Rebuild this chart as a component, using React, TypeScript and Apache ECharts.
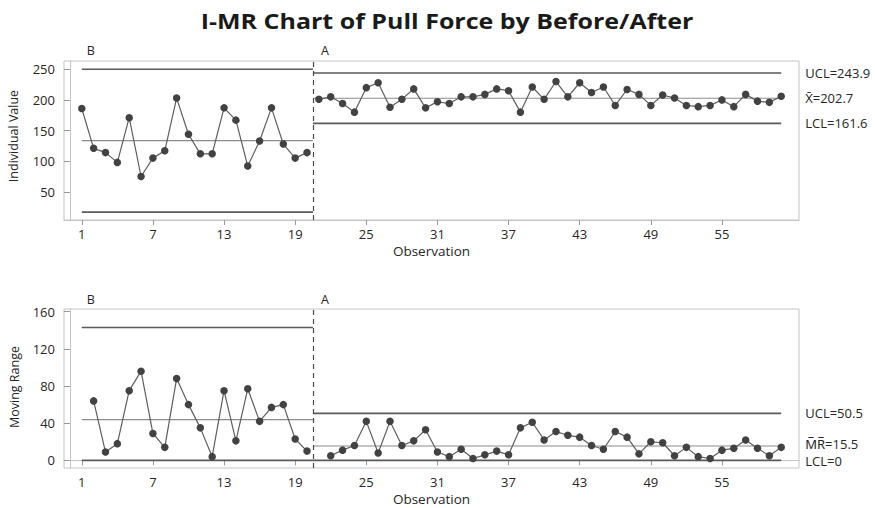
import React, { useEffect, useRef } from "react";
import * as echarts from "echarts";

// Observations 1..60; stage B = 1..20, stage A = 21..60
const xTicks = [1, 7, 13, 19, 25, 31, 37, 43, 49, 55];
const iTicks = [50, 100, 150, 200, 250];
const mrTicks = [0, 40, 80, 120, 160];

const indB = [186, 121, 114, 98, 171, 75, 105, 117, 203, 144, 112, 112, 187, 167, 92, 133, 187, 128, 105, 114];
const indA = [201, 205, 194, 180, 220, 228, 188, 201, 218, 187, 197, 194, 205, 205, 209, 218, 215, 180, 221, 201,
  230, 205, 228, 212, 221, 191, 217, 209, 191, 208, 203, 191, 189, 191, 200, 189, 209, 198, 196, 206];

// moving ranges: B from obs 2, A from obs 22
const mrB = [64, 9, 18, 75, 96, 29, 14, 88, 60, 35, 4, 75, 21, 77, 42, 57, 60, 23, 10];
const mrA = [5, 11, 16, 42, 8, 42, 16, 21, 33, 9, 4, 12, 2, 6, 10, 6, 35, 41, 22, 31, 27, 25, 16, 12, 31, 25, 7,
  20, 19, 5, 14, 4, 2, 11, 13, 22, 13, 5, 14];

// control limits [UCL, center, LCL]
const iLimitsB = [250, 133.5, 17];
const iLimitsA = [243.9, 202.7, 161.6];
const mrLimitsB = [143, 43.8, 0];
const mrLimitsA = [50.5, 15.5, 0];
const iLabelsA = ["UCL=243.9", "X\u0304=202.7", "LCL=161.6"];
const mrLabelsA = ["UCL=50.5", "M\u0305R\u0305=15.5", "LCL=0"];

const titleText = "I-MR Chart of Pull Force by Before/After";

const stageStartB = 1;
const stageSplit = 20.5;
const stageEndA = 60;

const FONT = "'Open Sans', 'Noto Sans', sans-serif";
const TXT = "#262626";

export default function App() {
  const ref = useRef<HTMLDivElement>(null);
  useEffect(() => {
    if (!ref.current) return;
    const chart = echarts.init(ref.current, null, { renderer: "svg" });

    const xAxisBase = (gridIndex: number) => ({
      type: "value",
      gridIndex,
      min: -0.5,
      max: 61.5,
      name: "Observation",
      nameLocation: "middle",
      nameGap: 24,
      nameTextStyle: { fontFamily: FONT, fontSize: 13.5, color: TXT },
      axisLine: { show: true, lineStyle: { color: "#c4c4c4" } },
      axisTick: { show: true, customValues: xTicks, length: 5, lineStyle: { color: "#999" } },
      axisLabel: { customValues: xTicks, fontFamily: FONT, fontSize: 13, color: TXT, margin: 7 },
      splitLine: { show: false },
    });
    const yAxisBase = (gridIndex: number, min: number, max: number, ticks: number[]) => ({
      type: "value",
      gridIndex,
      min,
      max,
      axisLine: { show: true, lineStyle: { color: "#c4c4c4" } },
      axisTick: { show: true, customValues: ticks, length: 6, lineStyle: { color: "#999" } },
      axisLabel: { customValues: ticks, fontFamily: FONT, fontSize: 13, color: TXT, margin: 9 },
      splitLine: { show: false },
    });

    const dataLine = (name: string, xi: number, data: number[][], withSplit: boolean) => ({
      type: "line",
      name,
      xAxisIndex: xi,
      yAxisIndex: xi,
      data,
      symbol: "circle",
      symbolSize: 7.5,
      itemStyle: { color: "#424242" },
      lineStyle: { color: "#5e5e5e", width: 1.2 },
      z: 5,
      markLine: withSplit
        ? {
            silent: true,
            symbol: ["none", "none"],
            label: { show: false },
            lineStyle: { color: "#4a4a4a", type: [5, 4], width: 1.2 },
            data: [{ xAxis: stageSplit }],
          }
        : undefined,
    });

    const limitLine = (
      xi: number,
      x0: number,
      x1: number,
      v: number,
      center: boolean,
      label?: string,
      dy: number = 0
    ) => ({
      type: "line",
      xAxisIndex: xi,
      yAxisIndex: xi,
      data: [[x0, v], [x1, v]],
      showSymbol: false,
      symbol: "none",
      silent: true,
      lineStyle: center ? { color: "#8c8c8c", width: 1.2 } : { color: "#5a5a5a", width: 1.7 },
      z: 3,
      endLabel: label
        ? {
            show: true,
            formatter: label,
            distance: 24,
            offset: [0, dy],
            fontFamily: FONT,
            fontSize: 13,
            lineHeight: 13,
            color: TXT,
          }
        : undefined,
    });

    const series: any[] = [];
    series.push(dataLine("IB", 0, indB.map((v, i) => [i + 1, v]), true));
    series.push(dataLine("IA", 0, indA.map((v, i) => [i + 21, v]), false));
    series.push(dataLine("MRB", 1, mrB.map((v, i) => [i + 2, v]), true));
    series.push(dataLine("MRA", 1, mrA.map((v, i) => [i + 22, v]), false));
    iLimitsB.forEach((v, k) => series.push(limitLine(0, stageStartB, stageSplit, v, k === 1)));
    iLimitsA.forEach((v, k) => series.push(limitLine(0, stageSplit, stageEndA, v, k === 1, iLabelsA[k])));
    mrLimitsB.forEach((v, k) => series.push(limitLine(1, stageStartB, stageSplit, v, k === 1)));
    const mrDy = [0, -2, 1];
    mrLimitsA.forEach((v, k) => series.push(limitLine(1, stageSplit, stageEndA, v, k === 1, mrLabelsA[k], mrDy[k])));

    chart.setOption({
      animation: false,
      backgroundColor: "#fff",
      grid: [
        { left: 64, right: 76, top: 61, height: 159, show: true, borderColor: "#c4c4c4", borderWidth: 1, containLabel: false },
        { left: 64, right: 76, top: 309, height: 159, show: true, borderColor: "#c4c4c4", borderWidth: 1, containLabel: false },
      ],
      xAxis: [xAxisBase(0), xAxisBase(1)],
      yAxis: [yAxisBase(0, 4, 263.5, iTicks), yAxisBase(1, -8.2, 162.9, mrTicks)],
      series,
    });

    const xB0 = chart.convertToPixel({ xAxisIndex: 0 }, 1) as number;
    const xA0 = chart.convertToPixel({ xAxisIndex: 0 }, 21) as number;
    const stageText = (x: number, y: number, t: string) => ({
      type: "text",
      x,
      y,
      style: { text: t, fontFamily: FONT, fontSize: 12.5, fill: TXT, align: "left", verticalAlign: "middle" },
    });
    chart.setOption({
      graphic: [
        {
          type: "text",
          x: 447,
          y: 21,
          scaleX: 1.19,
          style: {
            text: titleText,
            fontFamily: FONT,
            fontSize: 21,
            fontWeight: "bold",
            fill: "#1a1a1a",
            align: "center",
            verticalAlign: "middle",
          },
        },
        stageText(xB0 + 5, 50, "B"),
        stageText(xA0 + 2, 50, "A"),
        stageText(xB0 + 5, 299, "B"),
        stageText(xA0 + 2, 299, "A"),
        {
          type: "text",
          x: 13,
          y: 136,
          rotation: Math.PI / 2,
          style: { text: "Individual Value", fontFamily: FONT, fontSize: 12.5, fill: TXT, align: "center", verticalAlign: "middle" },
        },
        {
          type: "text",
          x: 14,
          y: 387,
          rotation: Math.PI / 2,
          style: { text: "Moving Range", fontFamily: FONT, fontSize: 12.5, fill: TXT, align: "center", verticalAlign: "middle" },
        },
      ],
    });

    return () => chart.dispose();
  }, []);
  return <div ref={ref} style={{ width: 875, height: 508, position: "absolute", left: 0, top: 0 }} />;
}
